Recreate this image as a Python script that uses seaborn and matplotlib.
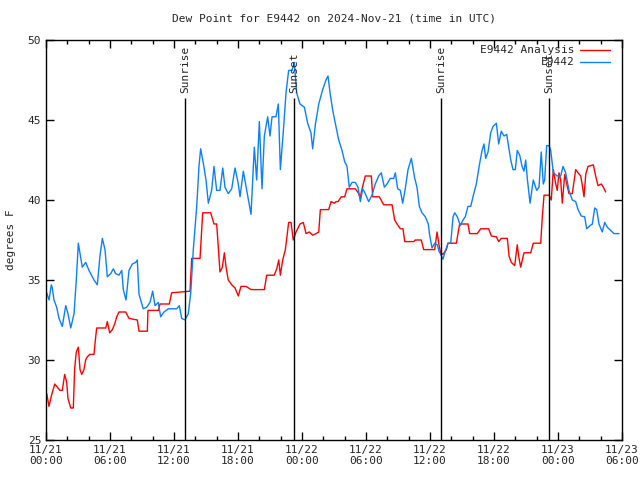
import numpy as np
import pandas as pd
import matplotlib
matplotlib.use("Agg")
import matplotlib.pyplot as plt
import seaborn as sb

# hours since 2024-11-21 00:00 UTC
obs_hours = [0.07, 0.28, 0.50, 0.59, 0.75, 1.00, 1.22, 1.53, 1.85, 2.06, 2.32, 2.63, 2.84, 3.03,
             3.25, 3.40, 3.72, 4.03, 4.50, 4.81, 5.06, 5.28, 5.53, 5.75, 6.07, 6.31, 6.53, 6.84,
             7.10, 7.25, 7.50, 7.78, 8.09, 8.41, 8.56, 8.72, 9.12, 9.44, 9.75, 10.00, 10.22, 10.53,
             10.75, 11.06, 11.47, 12.25, 12.50, 12.72, 13.03, 13.34, 13.57, 13.81, 14.13, 14.34,
             14.50, 14.75, 15.00, 15.22, 15.53, 15.75, 16.00, 16.31, 16.57, 16.78, 17.09, 17.41,
             17.72, 18.03, 18.19, 18.50, 18.82, 19.22, 19.53, 19.75, 20.00, 20.25, 20.47, 20.78,
             21.00, 21.19, 21.56, 21.78, 21.97, 22.25, 22.50, 22.75, 23.06, 23.28, 23.50, 23.81,
             24.22, 24.53, 24.84, 25.00, 25.25, 25.57, 25.94, 26.25, 26.44, 26.63, 26.88, 27.12,
             27.44, 27.75, 28.00, 28.22, 28.43, 28.69, 29.00, 29.25, 29.47, 29.69, 29.93, 30.25,
             30.56, 30.87, 31.19, 31.43, 31.72, 31.97, 32.28, 32.60, 32.75, 32.97, 33.22, 33.44,
             33.68, 33.94, 34.25, 34.57, 34.78, 35.00, 35.25, 35.56, 35.84, 35.97, 36.19, 36.44,
             36.68, 36.84, 37.00, 37.22, 37.43, 37.69, 37.94, 38.16, 38.32, 38.56, 38.84, 39.09,
             39.31, 39.56, 39.82, 40.03, 40.34, 40.66, 40.88, 41.06, 41.22, 41.44, 41.69, 41.91,
             42.22, 42.44, 42.68, 42.94, 43.19, 43.38, 43.57, 43.78, 44.00, 44.18, 44.41, 44.63,
             44.81, 44.97, 45.12, 45.38, 45.68, 46.00, 46.22, 46.43, 46.62, 46.75, 46.94, 47.16,
             47.32, 47.56, 47.93, 48.25, 48.47, 48.72, 49.03, 49.34, 49.66, 49.88, 50.18, 50.50,
             50.69, 51.00, 51.22, 51.44, 51.63, 51.84, 52.15, 52.38, 52.62, 52.94, 53.25, 53.72]
obs_dewpt = [34.2, 33.75, 34.7, 34.5, 33.75, 33.3, 32.6, 32.1, 33.4, 32.9, 32.0, 32.9, 35.0, 37.3,
             36.4, 35.8, 36.1, 35.6, 35.0, 34.7, 36.5, 37.6, 36.9, 35.2, 35.4, 35.7, 35.4, 35.3,
             35.6, 34.4, 33.75, 35.6, 36.0, 36.1, 36.25, 34.1, 33.2, 33.3, 33.6, 34.3, 33.4, 33.6,
             32.7, 33.0, 33.2, 33.2, 33.4, 32.6, 32.5, 32.9, 34.2, 36.9, 39.6, 42.1,
             43.2, 42.3, 41.25, 39.8, 40.6, 42.1, 40.6, 40.6, 42.0, 40.8, 40.4, 40.7,
             42.0, 41.0, 40.2, 41.8, 40.6, 39.1, 43.3, 41.25, 44.9, 40.7, 44.0, 45.2,
             44.0, 45.2, 45.2, 46.0, 41.9, 44.3, 46.7, 48.1, 48.1, 48.6, 46.7, 46.0,
             45.8, 44.8, 44.2, 43.2, 44.7, 46.0, 46.9, 47.5, 47.75, 46.7, 45.6, 44.8,
             43.75, 43.1, 42.4, 42.1, 40.8, 41.1, 41.1, 40.8, 39.9, 40.7, 40.4, 39.9,
             40.3, 41.0, 41.5, 41.7, 40.8, 41.0, 41.35, 41.35, 41.7, 40.7, 40.6, 39.8,
             40.7, 41.9, 42.6, 41.35, 40.8, 39.6, 39.2, 38.95, 38.5, 37.8, 37.0, 37.3,
             37.2, 36.8, 36.6, 36.3, 36.8, 37.3, 37.3, 38.95, 39.2, 38.95, 38.4, 38.75,
             38.95, 39.6, 39.6, 40.2, 41.0, 42.3, 43.1, 43.5, 42.6, 43.0, 44.2, 44.6,
             44.8, 43.5, 44.3, 44.0, 44.1, 43.3, 42.5, 41.9, 41.9, 43.1, 42.8, 42.1,
             41.8, 42.5, 41.35, 39.8, 41.25, 40.6, 40.8, 43.0, 41.0, 41.25, 43.4, 43.4,
             43.1, 41.7, 41.5, 41.5, 42.1, 41.7, 40.6, 40.0, 39.9, 39.4, 39.0, 38.95,
             38.2, 38.4, 38.5, 39.5, 39.4, 38.5, 38.0, 38.6, 38.3, 38.1, 37.9, 37.9]

ana_hours = [0.07, 0.28, 0.50, 0.82, 1.06, 1.31, 1.53, 1.75, 1.94, 2.06, 2.32, 2.56, 2.69, 2.84,
             3.03, 3.19, 3.35, 3.56, 3.72, 3.87, 4.10, 4.50, 4.59, 4.75, 5.60, 5.75, 5.97, 6.22,
             6.44, 6.63, 6.84, 7.47, 7.78, 8.56, 8.72, 9.50, 9.56, 10.53, 10.69, 11.56, 11.78,
             13.50, 13.66, 14.44, 14.69, 15.44, 15.75, 16.00, 16.15, 16.31, 16.53, 16.72, 16.88,
             17.09, 17.41, 17.72, 18.03, 18.28, 18.75, 19.22, 20.47, 20.69, 21.40, 21.63, 21.82,
             21.97, 22.19, 22.44, 22.75, 22.97, 23.18, 23.44, 23.81, 24.12, 24.38, 24.68, 25.00,
             25.31, 25.57, 25.72, 26.25, 26.50, 26.72, 27.03, 27.19, 27.38, 27.68, 28.00, 28.22,
             29.00, 29.32, 29.47, 29.56, 29.78, 29.93, 30.50, 30.63, 31.25, 31.66, 32.44, 32.69,
             32.91, 33.22, 33.47, 33.63, 34.47, 34.62, 35.18, 35.41, 36.44, 36.66, 36.84, 37.00,
             37.22, 37.53, 37.69, 38.47, 38.62, 38.78, 39.56, 39.72, 40.43, 40.75, 41.50, 41.75,
             42.22, 42.44, 42.68, 43.25, 43.41, 43.62, 43.94, 44.18, 44.31, 44.50, 44.81, 45.44,
             45.68, 46.38, 46.53, 46.69, 47.16, 47.37, 47.56, 47.79, 47.93, 48.09, 48.25, 48.40,
             48.63, 48.82, 49.03, 49.34, 49.66, 49.88, 50.13, 50.28, 50.44, 50.60, 50.81, 51.31,
             51.53, 51.75, 52.06, 52.25, 52.47]
ana_dewpt = [27.9, 27.1, 27.75, 28.5, 28.3, 28.1, 28.1, 29.1, 28.6, 27.6, 27.0, 27.0, 29.5, 30.5,
             30.8, 29.4, 29.1, 29.4, 30.0, 30.2, 30.35, 30.35, 31.0, 32.0, 32.0, 32.4, 31.7, 31.9,
             32.25, 32.7, 33.0, 33.0, 32.6, 32.5, 31.8, 31.8, 33.1, 33.1, 33.5, 33.5, 34.2,
             34.3, 36.35, 36.35, 39.2, 39.2, 38.5, 38.5, 37.1, 35.5, 35.8, 36.7, 35.8,
             35.0, 34.7, 34.5, 34.0, 34.6, 34.6, 34.4, 34.4, 35.3, 35.3, 35.7, 36.25,
             35.3, 36.25, 36.9, 38.6, 38.6, 37.5, 38.0, 38.5, 38.6, 37.9, 38.0, 37.8,
             37.9, 38.0, 39.4, 39.4, 39.4, 39.9, 39.8, 39.9, 39.9, 40.2, 40.2, 40.7,
             40.7, 40.4, 40.1, 40.5, 41.1, 41.5, 41.5, 40.2, 40.2, 39.7, 39.7, 38.75,
             38.5, 38.2, 38.2, 37.4, 37.4, 37.5, 37.5, 36.9, 36.9, 38.0, 37.2, 36.7,
             36.6, 36.9, 37.3, 37.3, 37.9, 38.5, 38.5, 37.9, 37.9, 38.2, 38.2, 37.75,
             37.7, 37.4, 37.6, 37.6, 36.5, 36.1, 35.9, 37.2, 36.5, 35.8, 36.7, 36.7,
             37.3, 37.3, 38.95, 40.3, 40.3, 40.0, 41.9, 41.0, 40.6, 41.7, 41.25, 39.8,
             41.6, 41.0, 40.4, 40.4, 41.9, 41.7, 41.5, 40.9, 40.2, 41.6, 42.1, 42.2,
             41.5, 40.9, 41.0, 40.8, 40.5]

sun_hours = [13.03, 23.25, 37.03, 47.16]
sun_names = ["Sunrise", "Sunset", "Sunrise", "Sunset"]

tick_hours = [0, 6, 12, 18, 24, 30, 36, 42, 48, 54]
tick_labels = ["11/21\n00:00", "11/21\n06:00", "11/21\n12:00", "11/21\n18:00", "11/22\n00:00",
               "11/22\n06:00", "11/22\n12:00", "11/22\n18:00", "11/23\n00:00", "11/23\n06:00"]

sb.set_style("ticks")
plt.rcParams['font.family'] = ['DejaVu Sans Mono']
plt.rcParams['xtick.direction'] = 'in'
plt.rcParams['ytick.direction'] = 'in'

obs = pd.DataFrame({"hours": obs_hours, "dewpt": obs_dewpt})
ana = pd.DataFrame({"hours": ana_hours, "dewpt": ana_dewpt})

fig = plt.figure(figsize=(6.4, 4.8), dpi=100)
ax = fig.add_axes([46/640, 40/480, 576/640, 400/480])

red = "#ff0000"
blue = "#0a80ff"
sb.lineplot(data=ana, x="hours", y="dewpt", color=red, lw=1, ax=ax)
sb.lineplot(data=obs, x="hours", y="dewpt", color=blue, lw=1, ax=ax)

for h, name in zip(sun_hours, sun_names):
    ax.vlines(h, 25, 46.4, color="black", lw=1)
    ax.text(h, 46.7, name, rotation=90, ha="center", va="bottom", fontsize=8)

ax.set_xlim(0, 54)
ax.set_ylim(25, 50)
ax.set_xticks(tick_hours)
ax.set_xticklabels(tick_labels)
ax.set_xticks(np.arange(0, 55, 2), minor=True)
ax.set_yticks([25, 30, 35, 40, 45, 50])
ax.tick_params(axis="both", which="both", top=True, right=True, labelsize=8, width=1, color="black")
ax.tick_params(which="major", length=6)
ax.tick_params(which="minor", length=3)
for s in ax.spines.values():
    s.set_color("black")
    s.set_linewidth(1)
ax.set_xlabel("")
ax.set_ylabel("degrees F", fontsize=8)
ax.yaxis.set_label_coords(-0.052, 0.5)
ax.set_title("Dew Point for E9442 on 2024-Nov-21 (time in UTC)", fontsize=8, pad=13)

# gnuplot-style legend, right-justified text with line sample on the right
for yy, name, c in [(0.975, "E9442 Analysis", red), (0.945, "E9442", blue)]:
    ax.text(0.918, yy, name, transform=ax.transAxes, ha="right", va="center", fontsize=8)
    ax.plot([0.927, 0.979], [yy, yy], transform=ax.transAxes, color=c, lw=1)

fig.savefig("out.png", dpi=100)
